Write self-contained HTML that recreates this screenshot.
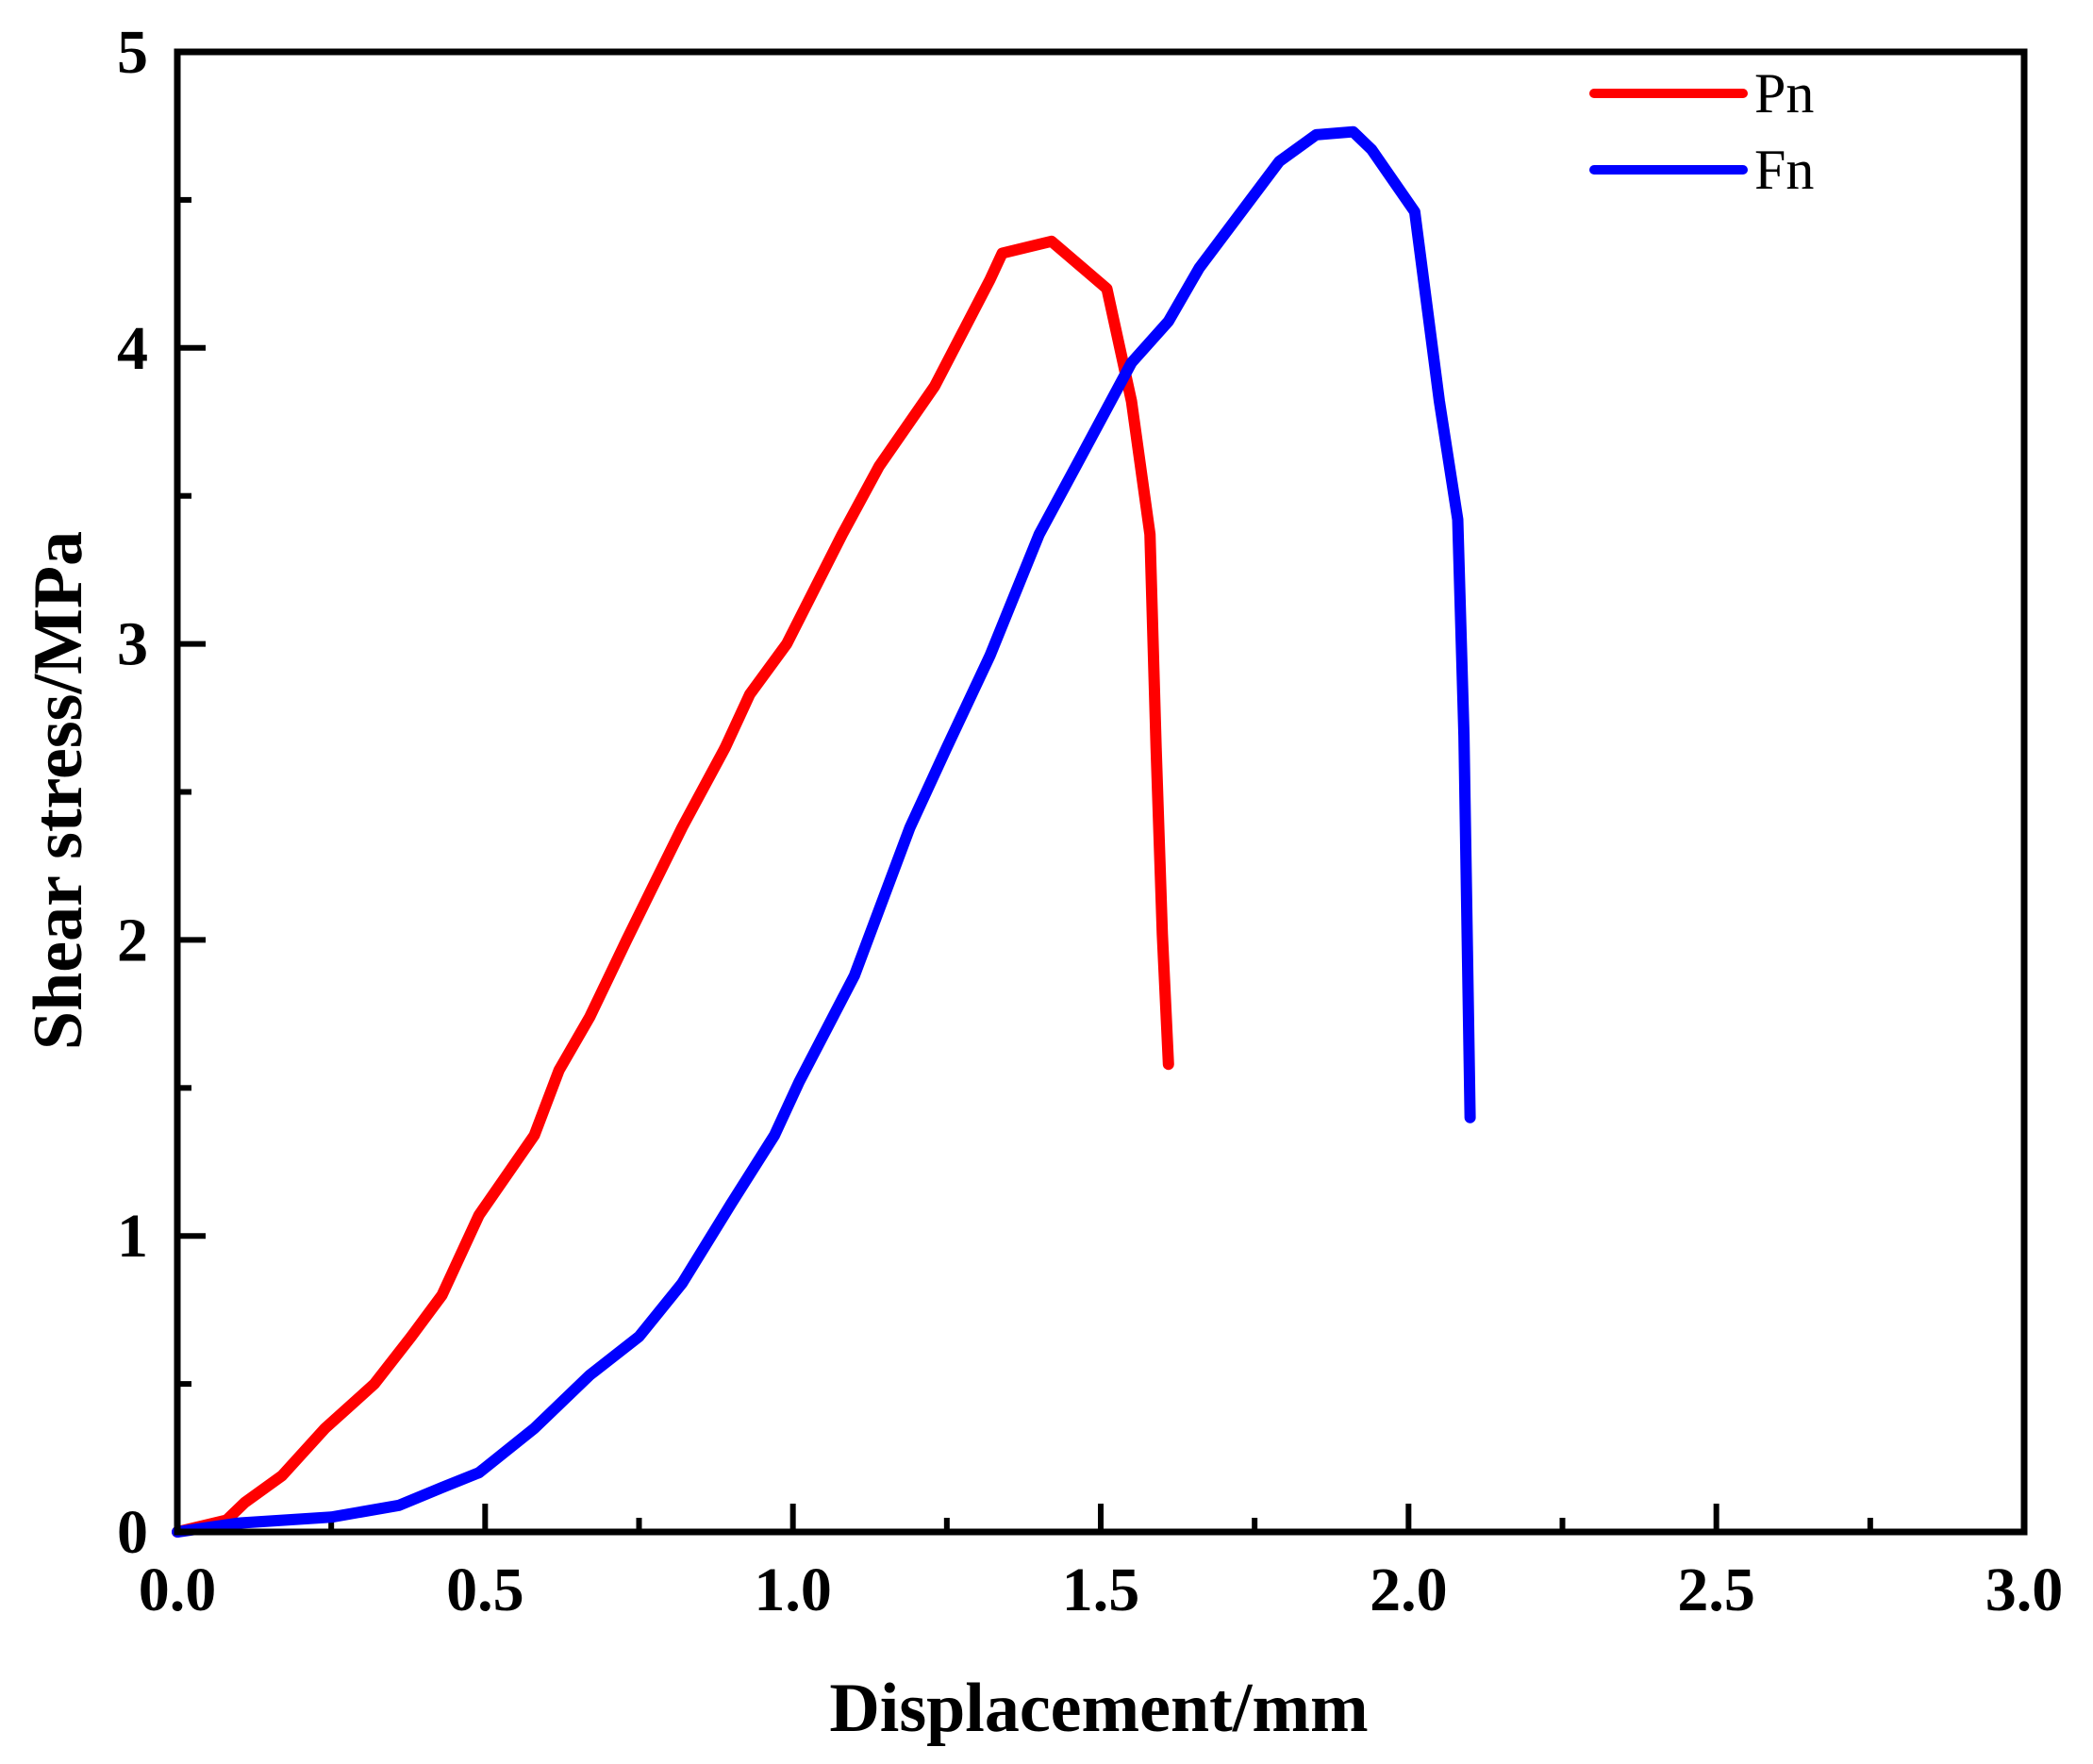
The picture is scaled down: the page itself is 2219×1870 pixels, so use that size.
<!DOCTYPE html>
<html><head><meta charset="utf-8"><style>
html,body{margin:0;padding:0;background:#fff;}
svg{display:block;}
text{font-family:"Liberation Serif",serif;fill:#000;}
</style></head><body>
<svg id="chart" width="2219" height="1870" viewBox="0 0 2219 1870" xmlns="http://www.w3.org/2000/svg">
<g id="ticks"></g>
<g id="series"></g>
<rect x="188" y="55" width="1958" height="1569" fill="none" stroke="#000" stroke-width="7"/>
<text x="1165" y="1835" font-size="74" font-weight="bold" text-anchor="middle">Displacement/mm</text>
<text transform="translate(86,838) rotate(-90)" font-size="74" font-weight="bold" text-anchor="middle">Shear stress/MPa</text>
<g>
<line x1="1690" y1="99" x2="1848" y2="99" stroke="#ff0000" stroke-width="10" stroke-linecap="round"/>
<text x="1860" y="119" font-size="60">Pn</text>
<line x1="1690" y1="180" x2="1848" y2="180" stroke="#0000ff" stroke-width="10" stroke-linecap="round"/>
<text x="1860" y="200" font-size="60">Fn</text>
</g>
</svg>
<script>
const xTicks=[0,0.5,1.0,1.5,2.0,2.5,3.0];
const xTickLabels=["0.0","0.5","1.0","1.5","2.0","2.5","3.0"];
const yTicks=[0,1,2,3,4,5];
const yTickLabels=["0","1","2","3","4","5"];
const pnX=[0,0.08,0.11,0.17,0.24,0.32,0.38,0.43,0.49,0.58,0.62,0.67,0.73,0.77,0.82,0.89,0.93,0.99,1.08,1.14,1.23,1.32,1.34,1.42,1.51,1.55,1.58,1.59,1.60,1.61];
const pnY=[0,0.04,0.1,0.19,0.35,0.5,0.66,0.8,1.07,1.34,1.56,1.74,2.0,2.17,2.38,2.65,2.83,3.0,3.37,3.6,3.87,4.23,4.32,4.36,4.2,3.82,3.37,2.65,2.02,1.58];
const fnX=[0,0.1,0.25,0.36,0.43,0.49,0.58,0.67,0.75,0.82,0.90,0.97,1.01,1.10,1.19,1.25,1.32,1.40,1.47,1.55,1.61,1.66,1.79,1.85,1.91,1.94,2.01,2.05,2.08,2.09,2.10];
const fnY=[0,0.03,0.05,0.09,0.15,0.2,0.35,0.53,0.66,0.84,1.11,1.34,1.52,1.88,2.38,2.65,2.96,3.37,3.64,3.95,4.09,4.27,4.63,4.72,4.73,4.67,4.46,3.82,3.42,2.69,1.40];
const L=188,R=2146,T=55,B=1624;
function sx(v){return L+(v/3)*(R-L);}
function sy(v){return B-(v/5)*(B-T);}
const NS="http://www.w3.org/2000/svg";
const tg=document.getElementById('ticks');
function mk(tag,attrs,parent){const e=document.createElementNS(NS,tag);for(const k in attrs)e.setAttribute(k,attrs[k]);parent.appendChild(e);return e;}
xTicks.forEach((v,i)=>{
  const t=mk('line',{x1:sx(v),x2:sx(v),y1:B,y2:B-30,stroke:'#000','stroke-width':6},tg);
  
  
  if(i<xTicks.length-1){
    const m=mk('line',{x1:sx(v+0.25),x2:sx(v+0.25),y1:B,y2:B-15,stroke:'#000','stroke-width':6},tg);
    
    
  }
  const lb=mk('text',{x:sx(v),y:1707,'font-size':66,'font-weight':'bold','text-anchor':'middle'},tg);
  lb.textContent=xTickLabels[i];
  
  
});
yTicks.forEach((v,i)=>{
  const t=mk('line',{x1:L,x2:L+30,y1:sy(v),y2:sy(v),stroke:'#000','stroke-width':6},tg);
  
  
  if(i<yTicks.length-1){
    const m=mk('line',{x1:L,x2:L+15,y1:sy(v+0.5),y2:sy(v+0.5),stroke:'#000','stroke-width':6},tg);
    
    
  }
  const lb=mk('text',{x:157,y:sy(v)+22,'font-size':66,'font-weight':'bold','text-anchor':'end'},tg);
  lb.textContent=yTickLabels[i];
  
  
});
const sg=document.getElementById('series');
function draw(xs,ys,color,name){
  const d=xs.map((x,i)=>(i?'L':'M')+sx(x).toFixed(1)+','+sy(ys[i]).toFixed(1)).join(' ');
  const p=mk('path',{d:d,fill:'none',stroke:color,'stroke-width':12,'stroke-linejoin':'round','stroke-linecap':'round'},sg);
  
  
}
draw(pnX,pnY,'#ff0000','pn-line');
draw(fnX,fnY,'#0000ff','fn-line');
</script>
</body></html>
